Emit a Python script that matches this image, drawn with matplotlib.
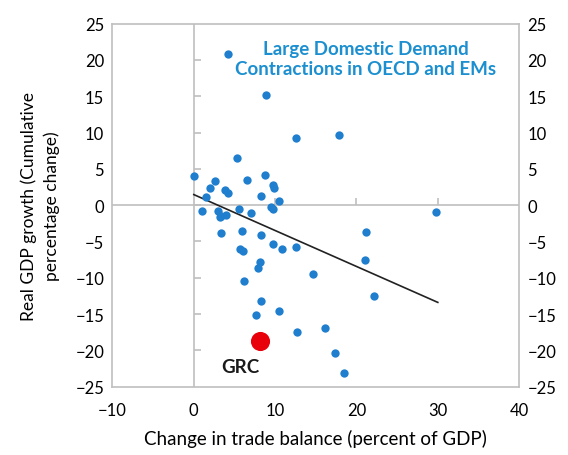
import matplotlib.pyplot as plt
from matplotlib.markers import TICKRIGHT, TICKUP

plt.rcParams['font.family'] = ['Lato', 'DejaVu Sans']

# change in trade balance (% of GDP) vs real GDP growth (cumulative % change)
trade_bal = [12.6, 17.9, 4.2, 8.9, 5.3, 0.0, 8.8, 2.6, 6.6, 2.0,
             3.8, 4.2, 9.7, 9.8, 1.5, 8.3, 10.5, 9.5, 9.7, 1.0,
             5.5, 3.0, 3.4, 4.0, 3.2, 7.0, 3.4, 5.9, 8.3, 9.7,
             10.8, 12.6, 5.7, 6.1, 21.2, 8.1, 7.9, 21.1, 14.6, 6.2,
             22.1, 8.3, 10.5, 7.7, 16.1, 12.7, 17.4, 18.5, 29.8]
gdp_growth = [9.2, 9.7, 20.8, 15.1, 6.5, 4.0, 4.1, 3.3, 3.5, 2.4,
              2.1, 1.7, 2.8, 2.3, 1.1, 1.3, 0.6, -0.25, -0.6, -0.85,
              -0.6, -0.85, -1.5, -1.4, -1.6, -1.1, -3.9, -3.6, -4.1, -5.4,
              -6.05, -5.8, -6.0, -6.3, -3.7, -7.8, -8.6, -7.6, -9.5, -10.5,
              -12.5, -13.2, -14.6, -15.2, -16.9, -17.5, -20.4, -23.1, -0.9]

grc_x, grc_y = 8.1, -18.7

# fitted trend line
trend_x = [0, 30]
trend_y = [1.45, -13.4]

xticks = [-10, 0, 10, 20, 30, 40]
yticks = [-25, -20, -15, -10, -5, 0, 5, 10, 15, 20, 25]

grey = '#bfbfbf'

fig = plt.figure(figsize=(5.68, 4.56), dpi=100)
ax = fig.add_axes([0.198, 0.150, 0.716, 0.796])

ax.axvline(0, color=grey, lw=1.2, zorder=1)
ax.axhline(0, color=grey, lw=1.2, zorder=1)
# small tick marks on the zero axes
ax.plot([0] * len(yticks[1:-1]), yticks[1:-1], ls='none', marker=TICKRIGHT,
        ms=5, mew=1.2, color=grey, zorder=1)
ax.plot(xticks[2:-1], [0] * len(xticks[2:-1]), ls='none', marker=TICKUP,
        ms=5, mew=1.2, color=grey, zorder=1)

ax.scatter(trade_bal, gdp_growth, s=36, color='#1f7fce', lw=0, zorder=3)
ax.plot(trend_x, trend_y, color='#222222', lw=1.2, zorder=2)
ax.scatter([grc_x], [grc_y], s=190, color='#e8000b', lw=0, zorder=4)

ax.text(5.7, -22.3, 'GRC', fontsize=13.5, fontweight='bold', ha='center',
        va='center', color='#1a1a1a')
ax.text(21.1, 20.2, 'Large Domestic Demand\nContractions in OECD and EMs',
        fontsize=13.5, fontweight='bold', color='#1b8fd0', ha='center',
        va='center', linespacing=1.2)

ax.set_xlim(-10, 40)
ax.set_ylim(-25, 25)
ax.set_xticks(xticks)
ax.set_yticks(yticks)
ax.tick_params(axis='x', length=0, labelsize=12, pad=11)
ax.tick_params(axis='y', which='both', left=True, right=True, labelleft=True,
               labelright=True, labelsize=12, pad=6)
ax.tick_params(axis='y', length=0)
for t in ax.yaxis.get_major_ticks():
    t.tick2line.set_markersize(5)
    t.tick2line.set_color(grey)
    t.tick2line.set_markeredgewidth(1.2)
ax.tick_params(axis='y', right=True, direction='in')
for sp in ax.spines.values():
    sp.set_color(grey)
    sp.set_linewidth(1.2)

ax.set_xlabel('Change in trade balance (percent of GDP)', fontsize=13.5,
              labelpad=8)
ax.set_ylabel('Real GDP growth (Cumulative\npercentage change)', fontsize=12.5,
              linespacing=1.45)
ax.yaxis.set_label_coords(-0.13, 0.5)

fig.savefig('out.png', dpi=100)
